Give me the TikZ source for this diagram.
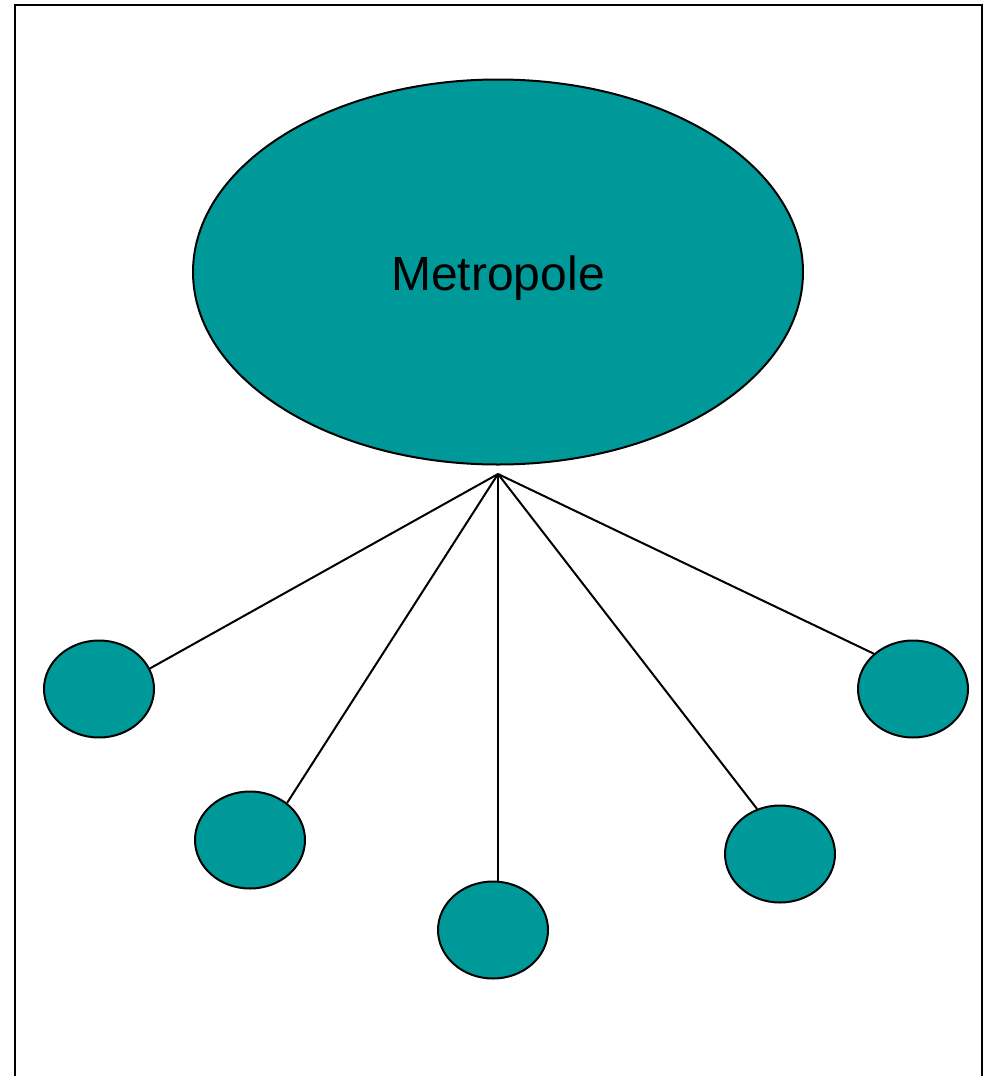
\documentclass[tikz,border=0pt]{standalone}
\usepackage{fontspec}
\setmainfont{Liberation Sans}
\usetikzlibrary{shapes.geometric}
\definecolor{tealfill}{HTML}{009999}
\begin{document}
\begin{tikzpicture}[x=1pt,y=-1pt,
  blob/.style={ellipse,draw=black,line width=2pt,fill=tealfill,inner sep=0pt},
  small/.style={blob,minimum width=110pt,minimum height=97pt},
  link/.style={draw=black,line width=2pt}]
\useasboundingbox (0,0) rectangle (988,1076);
\draw[line width=2.5pt] (15,1080) -- (15,5) -- (982,5) -- (982,1080);
\node[blob,minimum width=610pt,minimum height=385pt] (metro) at (498,272) {};
\node[font=\fontsize{48}{52}\selectfont] (lbl) at (498,278) {Metropole};
\coordinate (hub) at (498,474);
\node[small] (c1) at (99,689) {};
\node[small] (c2) at (250,840) {};
\node[small] (c3) at (493,930) {};
\node[small] (c4) at (780,854) {};
\node[small] (c5) at (913,689) {};
\draw[link] (hub) -- (c1.22);
\draw[link] (hub) -- (c2.45);
\draw[link] (hub) -- (hub |- c3.north);
\draw[link] (hub) -- (c4.117);
\draw[link] (hub) -- (c5.138);
\end{tikzpicture}
\end{document}
